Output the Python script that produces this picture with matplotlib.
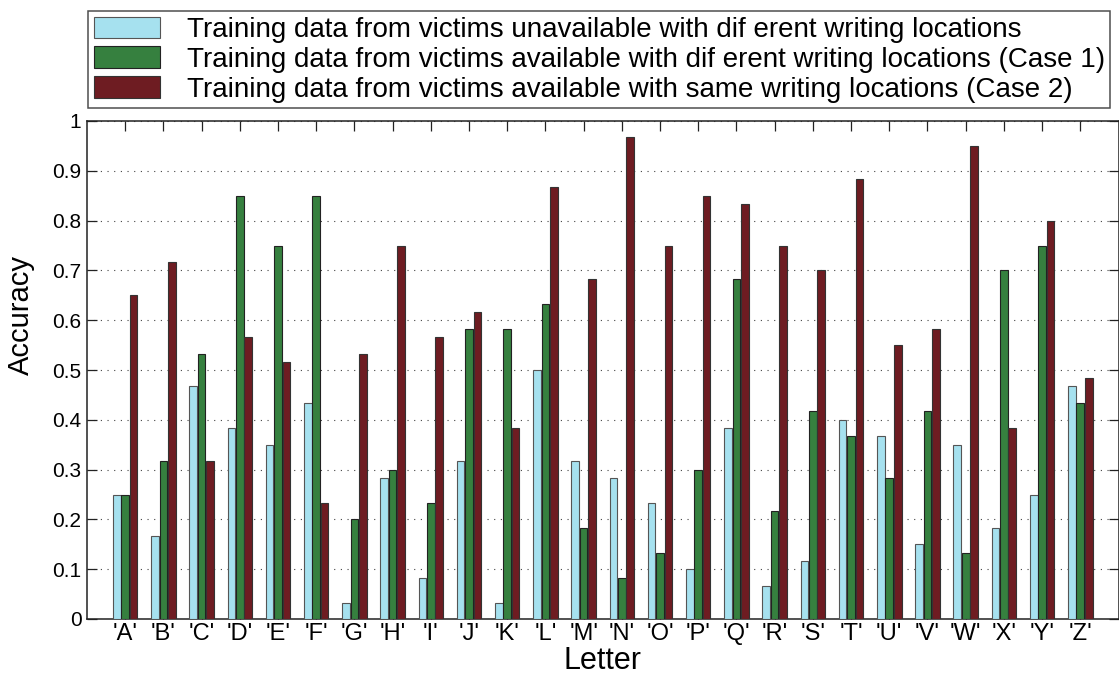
import matplotlib
matplotlib.use("Agg")
import matplotlib.pyplot as plt
from matplotlib import font_manager
import numpy as np

letters = list("ABCDEFGHIJKLMNOPQRSTUVWXYZ")
tick_labels = ["'%s'" % c for c in letters]

unavailable_diff = [0.250, 0.167, 0.467, 0.383, 0.350, 0.433, 0.033, 0.283, 0.083,
                    0.317, 0.033, 0.500, 0.317, 0.283, 0.233, 0.100, 0.383, 0.067,
                    0.117, 0.400, 0.367, 0.150, 0.350, 0.183, 0.250, 0.467]
available_diff = [0.250, 0.317, 0.533, 0.850, 0.750, 0.850, 0.200, 0.300, 0.233,
                  0.583, 0.583, 0.633, 0.183, 0.083, 0.133, 0.300, 0.683, 0.217,
                  0.417, 0.367, 0.283, 0.417, 0.133, 0.700, 0.750, 0.433]
available_same = [0.650, 0.717, 0.317, 0.567, 0.517, 0.233, 0.533, 0.750, 0.567,
                  0.617, 0.383, 0.867, 0.683, 0.967, 0.750, 0.850, 0.833, 0.750,
                  0.700, 0.883, 0.550, 0.583, 0.950, 0.383, 0.800, 0.483]

series_labels = [
    "Training data from victims unavailable with dif erent writing locations",
    "Training data from victims available with dif erent writing locations (Case 1)",
    "Training data from victims available with same writing locations (Case 2)",
]
colors = ["#A6E1EF", "#36803F", "#6E1C22"]
edges = ["#555555", "#222222", "#333333"]

available = {f.name for f in font_manager.fontManager.ttflist}
family = "Liberation Sans Narrow" if "Liberation Sans Narrow" in available else "Liberation Sans"
plt.rcParams["font.family"] = [family, "DejaVu Sans"]

W, H = 1119, 677
fig = plt.figure(figsize=(W / 100, H / 100), dpi=100)
ax = fig.add_axes([87 / W, 1 - 619 / H, (1118.5 - 87) / W, (619 - 121) / H])

x = np.arange(1, len(letters) + 1)
width = 0.2
offsets = [-0.22, 0.0, 0.22]
handles = []
for vals, off, col, ec, lab in zip([unavailable_diff, available_diff, available_same],
                                   offsets, colors, edges, series_labels):
    h = ax.bar(x + off, vals, width, color=col, edgecolor=ec, linewidth=0.8,
               label=lab, zorder=3)
    handles.append(h)

ax.set_xlim(0, 27)
ax.set_ylim(0, 1)
ax.set_yticks(np.arange(0, 1.01, 0.1))
ax.set_yticklabels(["0"] + ["%.1f" % v for v in np.arange(0.1, 0.95, 0.1)] + ["1"])
ax.set_xticks(x)
ax.set_xticklabels(tick_labels)

ax.yaxis.grid(True, linestyle=(0, (1, 5)), color="#444444", linewidth=0.8, zorder=0)
ax.set_axisbelow(True)

ax.tick_params(axis="both", direction="in", length=7, width=0.9, color="#222222",
               top=True, right=True)
ax.tick_params(axis="y", labelsize=15, pad=4)
ax.tick_params(axis="x", labelsize=17, pad=3)
for s in ax.spines.values():
    s.set_linewidth(1.1)
    s.set_color("#222222")

ax.set_ylabel("Accuracy", fontsize=21, labelpad=6)
ax.yaxis.set_label_coords(-0.05, 0.61)
ax.set_xlabel("Letter", fontsize=22, labelpad=0)
# baseline of the x label a few pixels above the bottom edge
ax.xaxis.set_label_coords(0.5, -(669 - 619) / 498)
ax.xaxis.label.set_va("baseline")

leg = fig.legend(handles=handles, labels=series_labels, loc="upper left",
                 bbox_to_anchor=(88 / W, 1 - 11 / H), fontsize=20,
                 frameon=True, fancybox=False, edgecolor="#222222",
                 handlelength=2.4, handleheight=0.83, handletextpad=0.95,
                 labelspacing=0.12, borderpad=0.2, borderaxespad=0.0)
leg.get_frame().set_linewidth(1.1)

fig.savefig("out.png", dpi=100)
